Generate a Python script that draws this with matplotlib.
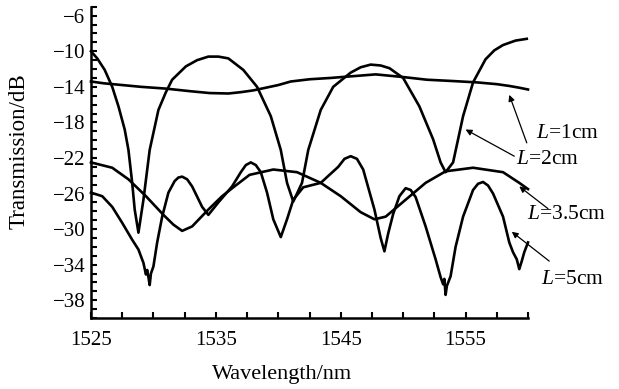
"""Transmission spectra of the fibre device for four lengths L."""
import matplotlib
matplotlib.use("Agg")
import matplotlib.pyplot as plt
from matplotlib.ticker import FixedLocator, MultipleLocator

plt.rcParams["font.family"] = ["Liberation Serif", "DejaVu Serif"]
plt.rcParams["mathtext.fontset"] = "custom"
plt.rcParams["mathtext.it"] = "Liberation Serif:italic"
plt.rcParams["mathtext.rm"] = "Liberation Serif"

# values (wavelength nm, transmission dB)
wl_1cm = [1525.0, 1526.0, 1527.5, 1529.0, 1531.0, 1533.0, 1534.5, 1536.0, 1537.0,
          1538.0, 1539.0, 1540.0, 1541.0, 1542.5, 1544.2, 1546.0, 1547.8, 1550.0,
          1551.9, 1554.0, 1555.9, 1557.5, 1558.5, 1559.3, 1560.0]
tr_1cm = [-13.4, -13.6, -13.8, -14.0, -14.2, -14.5, -14.7, -14.75, -14.6,
          -14.4, -14.1, -13.8, -13.4, -13.15, -13.0, -12.8, -12.6, -12.9,
          -13.2, -13.35, -13.5, -13.7, -13.9, -14.1, -14.3]

wl_2cm = [1525.0, 1525.5, 1526.1, 1526.7, 1527.2, 1527.7, 1528.0, 1528.3, 1528.5,
          1528.8, 1529.2, 1529.7, 1530.4, 1531.0, 1531.5, 1532.6, 1533.5, 1534.4,
          1535.2, 1536.0, 1537.2, 1538.3, 1539.4, 1540.2, 1540.7, 1541.2, 1541.9,
          1542.4, 1543.4, 1544.4, 1545.8, 1546.6, 1547.4, 1548.2, 1548.9, 1550.0,
          1551.3, 1552.4, 1553.0, 1553.4, 1554.0, 1554.8, 1555.6, 1556.6, 1557.3,
          1558.0, 1559.0, 1559.9]
tr_2cm = [-10.0, -10.8, -12.1, -14.0, -16.2, -18.8, -21.1, -24.8, -27.8,
          -30.4, -26.7, -21.1, -16.6, -14.6, -13.2, -11.7, -11.0, -10.6,
          -10.6, -10.8, -12.1, -14.0, -17.3, -21.1, -24.8, -26.9, -24.8,
          -21.1, -16.6, -14.0, -12.4, -11.8, -11.5, -11.6, -11.9, -13.0,
          -16.2, -19.9, -22.5, -23.6, -22.5, -17.3, -13.5, -10.9, -9.9,
          -9.3, -8.8, -8.6]

wl_35cm = [1525.0, 1526.7, 1528.0, 1529.4, 1530.8, 1531.6, 1532.3, 1533.1, 1534.4,
           1535.5, 1536.4, 1537.7, 1539.6, 1541.5, 1543.4, 1545.0, 1546.6, 1547.7,
           1548.6, 1550.2, 1551.8, 1553.4, 1555.6, 1558.0, 1559.3, 1560.0]
tr_35cm = [-22.5, -23.1, -24.4, -26.3, -28.4, -29.5, -30.2, -29.7, -27.8,
           -26.3, -25.3, -23.9, -23.3, -23.6, -24.8, -26.3, -28.1, -28.9,
           -28.6, -26.7, -24.8, -23.5, -23.1, -23.6, -24.8, -25.5]

wl_5cm = [1525.0, 1525.9, 1526.7, 1527.5, 1528.3, 1528.8, 1529.2, 1529.4, 1529.5,
          1529.6, 1529.7, 1529.8, 1530.0, 1530.3, 1530.7, 1531.2, 1531.7, 1532.0,
          1532.3, 1532.7, 1533.1, 1533.9, 1534.4, 1535.2, 1536.3, 1537.0, 1537.4,
          1537.8, 1538.2, 1538.6, 1539.1, 1539.6, 1540.2, 1540.7, 1541.2, 1542.0,
          1543.4, 1544.8, 1545.3, 1545.8, 1546.3, 1546.8, 1547.7, 1548.2, 1548.5,
          1548.8, 1549.2, 1549.7, 1550.2, 1550.6, 1551.0, 1551.8, 1552.6, 1553.0,
          1553.2, 1553.3, 1553.4, 1553.5, 1553.8, 1554.2, 1554.8, 1555.6, 1556.0,
          1556.4, 1556.8, 1557.2, 1558.0, 1558.5, 1558.8, 1559.1, 1559.3, 1559.5,
          1559.7, 1560.0]
tr_5cm = [-25.9, -26.3, -27.5, -29.3, -31.2, -32.3, -33.8, -35.1, -34.6,
          -35.4, -36.3, -35.0, -34.2, -31.5, -28.6, -25.9, -24.6, -24.2,
          -24.1, -24.4, -25.2, -27.5, -28.4, -27.0, -25.2, -23.6, -22.8,
          -22.5, -22.8, -23.6, -25.9, -28.9, -30.9, -28.9, -26.7, -25.3,
          -24.8, -23.0, -22.1, -21.8, -22.1, -23.3, -27.8, -31.0, -32.5,
          -30.5, -28.3, -26.3, -25.4, -25.6, -26.4, -29.7, -33.4, -35.4,
          -36.2, -35.6, -37.4, -36.4, -35.3, -32.0, -28.6, -25.6, -24.9,
          -24.7, -25.1, -26.0, -28.6, -31.5, -32.6, -33.4, -34.5, -33.6,
          -32.6, -31.5]

x_major = [1525, 1535, 1545, 1555]
y_major = [-6, -10, -14, -18, -22, -26, -30, -34, -38]

fig = plt.figure(figsize=(6.19, 3.89), dpi=100)
ax = fig.add_axes([0.147, 0.1825, 0.706, 0.8])

for wl, tr in [(wl_1cm, tr_1cm), (wl_2cm, tr_2cm), (wl_35cm, tr_35cm), (wl_5cm, tr_5cm)]:
    ax.plot(wl, tr, color="black", linewidth=1.9, solid_joinstyle="round", clip_on=False)

ax.set_xlim(1525, 1560)
ax.set_ylim(-40, -5)
for side in ("top", "right"):
    ax.spines[side].set_visible(False)
for side in ("left", "bottom"):
    ax.spines[side].set_linewidth(1.8)

ax.xaxis.set_major_locator(FixedLocator(x_major))
ax.xaxis.set_minor_locator(MultipleLocator(2.5))
ax.yaxis.set_major_locator(FixedLocator(y_major))
ax.yaxis.set_minor_locator(MultipleLocator(1))
ax.set_xticklabels([str(v) for v in x_major])
ax.set_yticklabels([f"\u2212{abs(v)}" for v in y_major])
ax.tick_params(which="both", direction="in", length=4, width=1.5, labelsize=15)
ax.tick_params(axis="x", pad=9)
ax.tick_params(axis="y", pad=4)

ax.set_xlabel("Wavelength/nm", fontsize=16)
ax.set_ylabel("Transmission/dB", fontsize=16.5)
ax.xaxis.set_label_coords(0.437, -0.152)
ax.yaxis.set_label_coords(-0.14, 0.535)

# labels with arrows: (text, text centre, arrow tail, arrow tip)
notes = [
    ("$L$=1cm", (1563.2, -19.3), (1559.9, -20.3), (1558.5, -14.9)),
    ("$L$=2cm", (1561.6, -22.2), (1558.9, -21.8), (1555.0, -18.8)),
    ("$L$=3.5cm", (1563.1, -28.4), (1561.6, -27.7), (1559.3, -25.2)),
    ("$L$=5cm", (1563.6, -35.7), (1561.7, -33.6), (1558.7, -30.3)),
]
for label, pos, tail, tip in notes:
    ax.annotate("", xy=tip, xytext=tail, annotation_clip=False,
                arrowprops=dict(arrowstyle="-|>", color="black", lw=0.9,
                                mutation_scale=9, shrinkA=0, shrinkB=0))
    ax.text(pos[0], pos[1], label, fontsize=15.5, ha="center", va="center",
            clip_on=False)

fig.savefig("out.png", dpi=100)
plt.close(fig)
